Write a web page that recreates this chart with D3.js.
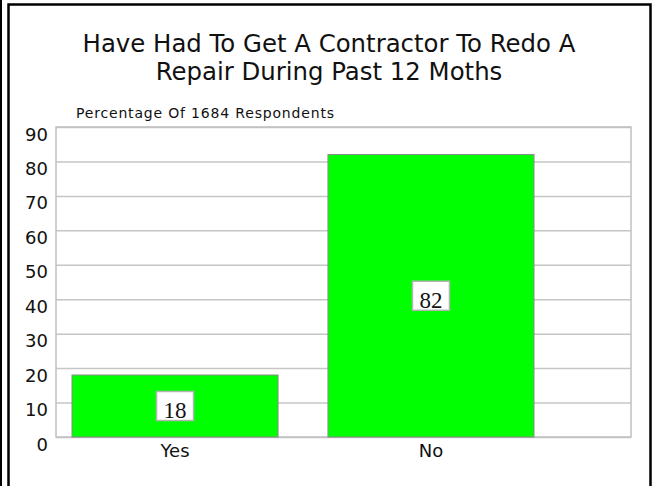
<!DOCTYPE html>
<html>
<head>
<meta charset="utf-8">
<script src="https://cdn.jsdelivr.net/npm/d3@7"></script>
<style>
  body { margin: 0; background: #fff; }
  svg { display: block; }
</style>
</head>
<body>
<svg width="653" height="486"></svg>
<script>
// chart data
const categories = ['Yes', 'No'];
const values = [18, 82];
const yTicks = [0, 10, 20, 30, 40, 50, 60, 70, 80, 90];
const titleLines = ['Have Had To Get A Contractor To Redo A', 'Repair During Past 12 Moths'];
const subtitle = 'Percentage Of 1684 Respondents';

const svg = d3.select('svg');

// outer black frame
svg.append('line').attr('x1', 1).attr('x2', 1).attr('y1', 0).attr('y2', 486)
  .attr('stroke', '#000').attr('stroke-width', 2);
svg.append('rect').attr('x', 8.5).attr('y', 4.5).attr('width', 642).attr('height', 490)
  .attr('fill', 'none').attr('stroke', '#000').attr('stroke-width', 2.5);

const plot = {left: 56, right: 631, top: 127, bottom: 437};

const y = d3.scaleLinear().domain([0, 90]).range([plot.bottom, plot.top]);
const x = d3.scaleBand().domain(categories)
  .range([47, 559]).paddingInner(0.195).paddingOuter(0.0977);

// title
svg.append('g').selectAll('text').data(titleLines).enter().append('text')
  .attr('x', 329)
  .attr('y', (d, i) => 52 + i * 28)
  .attr('text-anchor', 'middle')
  .attr('font-family', 'DejaVu Sans')
  .attr('font-size', 24.4)
  .attr('fill', '#111')
  .text(d => d);

// subtitle is a bit spaced out in the original
svg.append('text')
  .attr('x', 76).attr('y', 118)
  .attr('font-family', 'DejaVu Sans')
  .attr('font-size', 14)
  .attr('fill', '#111')
  .attr('textLength', 258)
  .attr('lengthAdjust', 'spacing')
  .text(subtitle);

// gridlines + y labels
const yAxis = svg.append('g')
  .attr('transform', `translate(${plot.left},0)`)
  .call(d3.axisLeft(y).tickValues(yTicks).tickSize(-(plot.right - plot.left)).tickPadding(8));
yAxis.select('.domain').remove();
yAxis.selectAll('line').attr('stroke', '#c6c6c6').attr('stroke-width', 1.5);
yAxis.selectAll('text')
  .attr('font-family', 'DejaVu Sans')
  .attr('font-size', 18)
  .attr('fill', '#111')
  .attr('dy', 13)
  .attr('x', -8);

// plot frame
svg.append('rect')
  .attr('x', plot.left).attr('y', plot.top)
  .attr('width', plot.right - plot.left).attr('height', plot.bottom - plot.top)
  .attr('fill', 'none').attr('stroke', '#c0c0c0').attr('stroke-width', 1.5);

// bars
svg.append('g').selectAll('rect').data(values).enter().append('rect')
  .attr('x', (d, i) => x(categories[i]))
  .attr('y', d => y(d))
  .attr('width', x.bandwidth())
  .attr('height', d => y(0) - y(d))
  .attr('fill', '#00ff00')
  .attr('stroke', '#8a8a8a')
  .attr('stroke-width', 1);

// x labels
const xAxis = svg.append('g')
  .attr('transform', `translate(0,${plot.bottom})`)
  .call(d3.axisBottom(x).tickSize(0).tickPadding(7));
xAxis.select('.domain').remove();
xAxis.selectAll('text')
  .attr('font-family', 'DejaVu Sans')
  .attr('font-size', 18)
  .attr('fill', '#111');

// value labels in white boxes
const labels = svg.append('g').selectAll('g').data(values).enter().append('g')
  .attr('transform', (d, i) => `translate(${x(categories[i]) + x.bandwidth() / 2},${(y(d) + y(0)) / 2})`);
labels.append('rect')
  .attr('x', -18.5).attr('y', -14.5)
  .attr('width', 37).attr('height', 29)
  .attr('fill', '#fff').attr('stroke', '#b4b4b4').attr('stroke-width', 1.5);
labels.append('text')
  .attr('y', 12)
  .attr('text-anchor', 'middle')
  .attr('font-family', 'Liberation Serif')
  .attr('font-size', 23)
  .attr('fill', '#111')
  .text(d => d);
</script>
</body>
</html>
